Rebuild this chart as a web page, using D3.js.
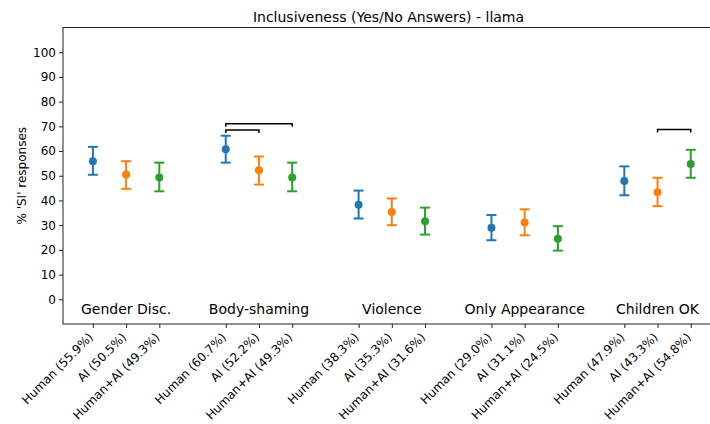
<!DOCTYPE html>
<html>
<head>
<meta charset="utf-8">
<script src="https://cdn.jsdelivr.net/npm/d3@7"></script>
<style>
  body { margin: 0; background: #fff; }
  text { font-family: "DejaVu Sans", sans-serif; fill: #000; }
</style>
</head>
<body>
<div id="chart-area"></div>
<script>
// Data
const categories = ["Gender Disc.", "Body-shaming", "Violence", "Only Appearance", "Children OK"]
const sources = ["Human", "AI", "Human+AI"]
const colors = ["#1f77b4", "#ff7f0e", "#2ca02c"]

const humanValues = [55.9, 60.7, 38.3, 29.0, 47.9]
const aiValues = [50.5, 52.2, 35.3, 31.1, 43.3]
const humanAiValues = [49.3, 49.3, 31.6, 24.5, 54.8]

const humanLow = [50.4, 55.3, 32.7, 23.9, 42.1]
const humanHigh = [61.7, 66.2, 44.0, 34.1, 53.8]
const aiLow = [44.7, 46.4, 30.0, 25.9, 37.7]
const aiHigh = [55.9, 57.8, 40.8, 36.4, 49.2]
const humanAiLow = [43.7, 43.7, 26.2, 19.7, 49.2]
const humanAiHigh = [55.3, 55.3, 37.1, 29.6, 60.5]

const yTicks = [0, 10, 20, 30, 40, 50, 60, 70, 80, 90, 100]

// significance brackets: [category, source a, source b, level]
const brackets = [
	[1, 0, 1, 68.5],
	[1, 0, 2, 71.0],
	[4, 1, 2, 68.7]
]

// Margins, Canvas
const W = 710, H = 424
const margin = { left: 63, top: 27.5, right: 714, bottom: 324 }

const svg = d3.select("#chart-area")
	.append("svg")
	.attr("width", W)
	.attr("height", H)

svg.append("rect").attr("width", W).attr("height", H).attr("fill", "#fff")

// Scales
const x = d3.scaleLinear().domain([-0.9, 18.7]).range([margin.left, margin.right])
const y = d3.scaleLinear().domain([-10, 110]).range([margin.bottom, margin.top])

const pos = (c, s) => c * 4 + s

// build point table
const values = [humanValues, aiValues, humanAiValues]
const lows = [humanLow, aiLow, humanAiLow]
const highs = [humanHigh, aiHigh, humanAiHigh]
const points = []
categories.forEach((cat, c) => {
	sources.forEach((src, s) => {
		points.push({
			cat: c, src: s,
			label: `${src} (${values[s][c].toFixed(1)}%)`,
			value: values[s][c], low: lows[s][c], high: highs[s][c]
		})
	})
})

// Frame
svg.append("rect")
	.attr("x", margin.left)
	.attr("y", margin.top)
	.attr("width", margin.right - margin.left)
	.attr("height", margin.bottom - margin.top)
	.attr("fill", "none")
	.attr("stroke", "#222")
	.attr("stroke-width", 1)

// Y axis
const yAxis = svg.append("g")
	.attr("transform", `translate(${margin.left}, 0)`)
	.call(d3.axisLeft(y).tickValues(yTicks).tickSize(4).tickPadding(3))
yAxis.select(".domain").remove()
yAxis.selectAll("text").attr("font-size", "12px").attr("font-family", "DejaVu Sans")
yAxis.selectAll("line").attr("stroke", "#222")

svg.append("text")
	.attr("transform", `translate(22, ${(margin.top + margin.bottom) / 2}) rotate(-90)`)
	.attr("text-anchor", "middle")
	.attr("dominant-baseline", "middle")
	.attr("font-size", "12px")
	.text("% 'SI' responses")

// X axis
const xAxis = svg.append("g")
	.attr("transform", `translate(0, ${margin.bottom})`)
	.call(d3.axisBottom(x).tickValues(points.map(d => pos(d.cat, d.src))).tickSize(4).tickFormat(""))
xAxis.select(".domain").remove()
xAxis.selectAll("line").attr("stroke", "#222")

svg.selectAll(".xlabel")
	.data(points)
	.enter().append("text")
	.attr("class", "xlabel")
	.attr("transform", d => `translate(${x(pos(d.cat, d.src)) + 1}, ${margin.bottom + 14}) rotate(-45)`)
	.attr("text-anchor", "end")
	.attr("font-size", "12px")
	.text(d => d.label)

// Title
svg.append("text")
	.attr("x", (margin.left + margin.right) / 2)
	.attr("y", 22)
	.attr("text-anchor", "middle")
	.attr("font-size", "14px")
	.text("Inclusiveness (Yes/No Answers) - llama")

// Category labels
svg.selectAll(".catlabel")
	.data(categories)
	.enter().append("text")
	.attr("class", "catlabel")
	.attr("x", (d, i) => x(pos(i, 1)))
	.attr("y", y(-4.5))
	.attr("text-anchor", "middle")
	.attr("dominant-baseline", "middle")
	.attr("font-size", "14px")
	.text(d => d)

// Error bars
const g = svg.append("g")
const bars = g.selectAll(".err").data(points).enter().append("g").attr("class", "err")
bars.append("line")
	.attr("x1", d => x(pos(d.cat, d.src))).attr("x2", d => x(pos(d.cat, d.src)))
	.attr("y1", d => y(d.low)).attr("y2", d => y(d.high))
	.attr("stroke", d => colors[d.src]).attr("stroke-width", 2)
bars.selectAll(".cap")
	.data(d => [[d, d.low], [d, d.high]])
	.enter().append("line")
	.attr("x1", d => x(pos(d[0].cat, d[0].src)) - 5).attr("x2", d => x(pos(d[0].cat, d[0].src)) + 5)
	.attr("y1", d => y(d[1])).attr("y2", d => y(d[1]))
	.attr("stroke", d => colors[d[0].src]).attr("stroke-width", 2)
bars.append("circle")
	.attr("cx", d => x(pos(d.cat, d.src)))
	.attr("cy", d => y(d.value))
	.attr("r", 4)
	.attr("fill", d => colors[d.src])

// Significance brackets
brackets.forEach(b => {
	const x1 = x(pos(b[0], b[1])), x2 = x(pos(b[0], b[2]))
	const yy = y(b[3]), drop = 3
	svg.append("path")
		.attr("d", `M${x1},${yy + drop}V${yy}H${x2}V${yy + drop}`)
		.attr("fill", "none")
		.attr("stroke", "#000")
		.attr("stroke-width", 1.5)
})
</script>
</body>
</html>
